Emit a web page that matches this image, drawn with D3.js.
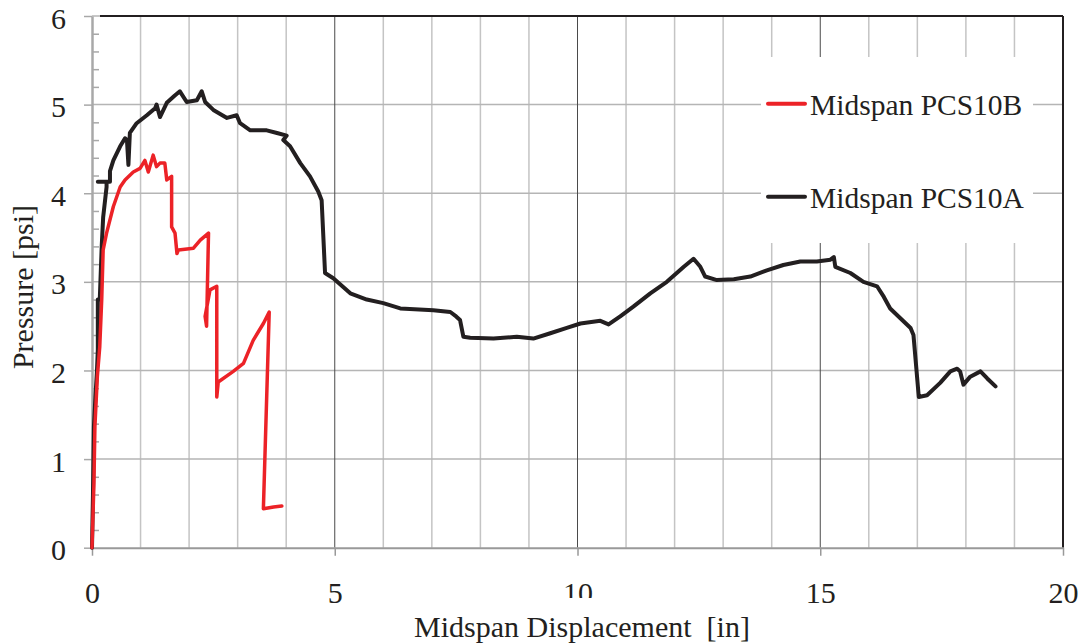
<!DOCTYPE html>
<html>
<head>
<meta charset="utf-8">
<script src="https://cdn.jsdelivr.net/npm/d3@7"></script>
<style>
.serifA { font-family: "Liberation Serif", serif; }
</style>
</head>
<body style="margin:0">
<svg id="chart" width="1082" height="643"></svg>
<script>
// ---- data ----
const xTicks = [0, 5, 10, 15, 20];
const yTicks = [0, 1, 2, 3, 4, 5, 6];
const seriesNames = ["Midspan PCS10B", "Midspan PCS10A"];
const seriesColors = ["#ec2227", "#231f20"];

// Midspan PCS10A (black)
const aX = [0, 0.02, 0.04, 0.07, 0.1, 0.12, 0.12, 0.16, 0.2, 0.23, 0.3, 0.3, 0.12, 0.37, 0.37, 0.44, 0.58, 0.68, 0.72, 0.75, 0.78, 0.92, 1.13, 1.3, 1.33, 1.4, 1.54, 1.7, 1.81, 1.95, 2.16, 2.26, 2.33, 2.5, 2.78, 2.98, 3.05, 3.26, 3.6, 3.81, 4.01, 3.94, 4.08, 4.29, 4.49, 4.66, 4.73, 4.8, 4.97, 5.32, 5.66, 6.0, 6.35, 7.03, 7.38, 7.5, 7.58, 7.65, 7.79, 8.27, 8.75, 9.09, 9.44, 9.78, 10.06, 10.47, 10.64, 10.88, 11.15, 11.5, 11.84, 12.19, 12.39, 12.53, 12.63, 12.87, 13.22, 13.56, 13.9, 14.24, 14.59, 14.93, 15.21, 15.28, 15.31, 15.62, 15.89, 16.17, 16.31, 16.44, 16.65, 16.86, 16.92, 17.03, 17.2, 17.47, 17.68, 17.82, 17.88, 17.95, 18.09, 18.3, 18.44, 18.61];
const aY = [0, 0.6, 1.37, 1.7, 1.97, 2.23, 2.8, 2.8, 3.4, 3.73, 4.07, 4.13, 4.13, 4.13, 4.25, 4.37, 4.53, 4.62, 4.6, 4.32, 4.68, 4.79, 4.88, 4.96, 5.0, 4.86, 5.02, 5.1, 5.15, 5.03, 5.05, 5.15, 5.03, 4.94, 4.85, 4.88, 4.79, 4.71, 4.71, 4.68, 4.65, 4.6, 4.53, 4.34, 4.19, 4.02, 3.92, 3.1, 3.04, 2.87, 2.8, 2.76, 2.70, 2.68, 2.66, 2.61, 2.57, 2.38, 2.37, 2.36, 2.38, 2.36, 2.42, 2.48, 2.53, 2.56, 2.52, 2.61, 2.72, 2.87, 3.0, 3.17, 3.26, 3.17, 3.06, 3.02, 3.03, 3.06, 3.13, 3.19, 3.23, 3.23, 3.25, 3.28, 3.17, 3.1, 3.0, 2.95, 2.83, 2.7, 2.59, 2.48, 2.40, 1.70, 1.72, 1.86, 1.99, 2.02, 1.99, 1.84, 1.93, 1.99, 1.91, 1.82];

// Midspan PCS10B (red)
const bX = [0, 0.04, 0.06, 0.11, 0.16, 0.2, 0.23, 0.3, 0.44, 0.58, 0.68, 0.85, 0.99, 1.09, 1.16, 1.26, 1.33, 1.4, 1.5, 1.54, 1.64, 1.64, 1.71, 1.75, 1.78, 2.09, 2.23, 2.4, 2.36, 2.33, 2.43, 2.57, 2.57, 2.6, 2.91, 3.12, 3.32, 3.53, 3.65, 3.53, 3.74, 3.91];
const bY = [0, 0.73, 1.37, 1.93, 2.27, 2.8, 3.36, 3.55, 3.85, 4.07, 4.15, 4.24, 4.28, 4.37, 4.24, 4.43, 4.3, 4.34, 4.34, 4.15, 4.19, 3.62, 3.55, 3.32, 3.36, 3.38, 3.47, 3.55, 2.5, 2.61, 2.91, 2.95, 1.70, 1.87, 1.99, 2.08, 2.34, 2.53, 2.66, 0.44, 0.46, 0.47];

// ---- chart ----
const svg = d3.select("#chart");
const x = d3.scaleLinear().domain([0, 20]).range([92, 1063]);
const y = d3.scaleLinear().domain([0, 6]).range([547.7, 16]);

// vertical minor gridlines
svg.append("g").selectAll("line").data(d3.range(1, 20).filter(v => v % 5 !== 0)).join("line")
  .attr("x1", d => x(d)).attr("x2", d => x(d))
  .attr("y1", y(0)).attr("y2", y(6))
  .attr("stroke", "#c4c4c4").attr("stroke-width", 1.5);
// horizontal gridlines
svg.append("g").selectAll("line").data(yTicks.slice(1)).join("line")
  .attr("x1", x(0)).attr("x2", x(20))
  .attr("y1", d => y(d)).attr("y2", d => y(d))
  .attr("stroke", "#b5b5b5").attr("stroke-width", 1.5);
// major vertical gridlines
svg.append("g").selectAll("line").data([5, 10, 15]).join("line")
  .attr("x1", d => x(d)).attr("x2", d => x(d))
  .attr("y1", y(0)).attr("y2", y(6))
  .attr("stroke", "#4a4a4a").attr("stroke-width", 1);

// top and right borders
svg.append("line").attr("x1", x(0) + 8).attr("x2", x(20)).attr("y1", y(6)).attr("y2", y(6))
  .attr("stroke", "#231f20").attr("stroke-width", 1.8);
svg.append("line").attr("x1", x(20)).attr("x2", x(20)).attr("y1", y(6)).attr("y2", y(0))
  .attr("stroke", "#231f20").attr("stroke-width", 2);

// y minor ticks (inside)
const yMinor = d3.axisLeft(y).tickValues(d3.range(0, 30).map(i => i * 0.2).filter((v, i) => i % 5 !== 0))
  .tickSizeInner(-7).tickSizeOuter(0).tickFormat("");
const gyMinor = svg.append("g").attr("transform", `translate(${x(0)},0)`).call(yMinor);
gyMinor.select(".domain").remove();
gyMinor.selectAll("line").attr("stroke", "#a8a8a8").attr("stroke-width", 1.5);

// y axis
const yAxis = d3.axisLeft(y).tickValues(yTicks).tickSizeInner(8).tickSizeOuter(0).tickPadding(18).tickFormat(d3.format("d"));
const gy = svg.append("g").attr("transform", `translate(${x(0)},0)`).call(yAxis);
gy.attr("font-family", null).attr("font-size", null);
gy.select(".domain").attr("stroke", "#a8a8a8").attr("stroke-width", 2.5);
gy.selectAll(".tick line").attr("stroke", "#a8a8a8").attr("stroke-width", 1.5);
gy.selectAll(".tick text").attr("dy", "0.4em").attr("fill", "#231f20")
  .attr("class", "serifA").attr("font-size", 30);

// x axis
const xAxis = d3.axisBottom(x).tickValues(xTicks).tickSizeInner(8).tickSizeOuter(0).tickPadding(26).tickFormat(d3.format("d"));
const gx = svg.append("g").attr("transform", `translate(0,${y(0)})`).call(xAxis);
gx.attr("font-family", null).attr("font-size", null);
gx.select(".domain").attr("stroke", "#999").attr("stroke-width", 2);
gx.selectAll(".tick line").attr("stroke", "#999").attr("stroke-width", 1.5);
gx.selectAll(".tick text").attr("fill", "#231f20")
  .attr("class", "serifA").attr("font-size", 30);

// series
const line = d3.line().x(d => x(d[0])).y(d => y(d[1]));
const dataA = aX.map((v, i) => [v, aY[i]]);
const dataB = bX.map((v, i) => [v, bY[i]]);
svg.append("path").datum(dataA).attr("d", line).attr("fill", "none")
  .attr("stroke", seriesColors[1]).attr("stroke-width", 4).attr("stroke-linejoin", "round").attr("stroke-linecap", "round");
svg.append("path").datum(dataB).attr("d", line).attr("fill", "none")
  .attr("stroke", seriesColors[0]).attr("stroke-width", 3.5).attr("stroke-linejoin", "round").attr("stroke-linecap", "round");

// legend
svg.append("rect").attr("x", 761).attr("y", 57).attr("width", 272).attr("height", 186).attr("fill", "#fff");
const leg = svg.append("g");
[0, 1].forEach(i => {
  const ly = i === 0 ? 103.7 : 196.7;
  leg.append("line").attr("x1", 768).attr("x2", 805).attr("y1", ly).attr("y2", ly)
    .attr("stroke", seriesColors[i]).attr("stroke-width", 4).attr("stroke-linecap", "round");
  leg.append("text").attr("x", 810).attr("y", ly + 11).attr("fill", "#231f20")
    .attr("class", "serifA").attr("font-size", 29.5).text(seriesNames[i]);
});

// axis titles
svg.append("rect").attr("x", 405).attr("y", 598).attr("width", 355).attr("height", 45).attr("fill", "#fff");
svg.append("text").attr("x", 582).attr("y", 637).attr("text-anchor", "middle").attr("fill", "#231f20")
  .attr("class", "serifA").attr("font-size", 30).attr("xml:space", "preserve")
  .text("Midspan Displacement  [in]");
svg.append("text").attr("transform", "translate(33,287) rotate(-90)").attr("text-anchor", "middle").attr("fill", "#231f20")
  .attr("class", "serifA").attr("font-size", 30).text("Pressure [psi]");
</script>
</body>
</html>
